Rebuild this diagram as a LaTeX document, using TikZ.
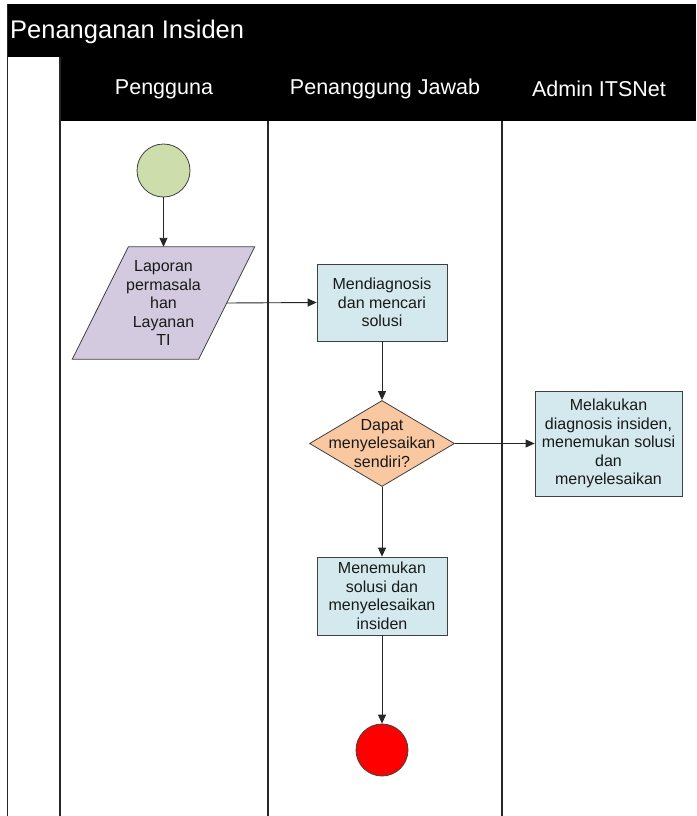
\documentclass[tikz,border=0pt]{standalone}
\usepackage{fontspec}
\setmainfont{Liberation Sans}
\usetikzlibrary{shapes.geometric,arrows.meta,calc}

\definecolor{startgreen}{HTML}{CEDDAC}
\definecolor{inputlilac}{HTML}{D3CADF}
\definecolor{taskblue}{HTML}{D4E9EE}
\definecolor{choicepeach}{HTML}{F9C8A0}
\definecolor{edgegray}{HTML}{404040}

\begin{document}
\begin{tikzpicture}[x=1pt,y=-1pt,
  laneline/.style={draw=black!85,line width=1.4pt},
  lanehead/.style={text=white,font=\fontsize{21.5}{25}\selectfont,inner sep=0pt},
  nodetext/.style={font=\fontsize{16}{18.5}\selectfont,align=center,text=black!90,inner sep=0pt},
  shapeline/.style={draw=edgegray,line width=0.8pt},
  taskbox/.style={shapeline,fill=taskblue,rectangle,nodetext},
  event/.style={shapeline,circle,minimum size=53pt,inner sep=0pt},
  decision/.style={shapeline,diamond,fill=choicepeach,minimum width=145pt,minimum height=86pt,inner sep=0pt},
  flow/.style={draw=black!85,line width=0.9pt,-{Triangle[length=9pt,width=8pt]}}
]
\useasboundingbox (0,0) rectangle (696,816);
\fill[white] (0,0) rectangle (696,816);

% pool header and lane header band
\fill[black] (7,4) rectangle (696,121);
\fill[white] (7.5,57) rectangle (60,816);

% pool and lane borders
\draw[laneline] (7.5,4) -- (7.5,816);
\draw[laneline] (60,57) -- (60,816);
\draw[laneline] (268,121) -- (268,816);
\draw[laneline] (502,121) -- (502,816);

% titles
\node[anchor=west,text=white,font=\fontsize{25.5}{30}\selectfont,inner sep=0pt] (title) at (10,32) {Penanganan Insiden};
\node[lanehead] (laneuser) at (164,89) {Pengguna};
\node[lanehead] (laneowner) at (385,89) {Penanggung Jawab};
\node[lanehead] (laneadmin) at (599,89) {Admin ITSNet};

% flow elements
\node[event,fill=startgreen] (start) at (163.5,170.5) {};

% input parallelogram: frame node, slanted outline, then its text
\node[inner sep=0pt,minimum width=126pt,minimum height=112pt] (para) at (163.5,303) {};
\filldraw[shapeline,fill=inputlilac]
  ($(para.north west)+(28,0)$) -- ($(para.north east)+(28,0)$) --
  ($(para.south east)+(-28,0)$) -- ($(para.south west)+(-28,0)$) -- cycle;
\node[nodetext] (paratext) at (para.center) {Laporan\\permasala\\han\\Layanan\\TI};

\node[taskbox,minimum width=130pt,minimum height=77pt] (diag) at (382,302.5)
  {Mendiagnosis\\dan mencari\\solusi};

\node[decision] (dia) at (382,443.5) {};
\node[nodetext] (diatext) at (dia.center) {Dapat\\menyelesaikan\\sendiri?};

\node[taskbox,minimum width=147pt,minimum height=105pt] (admin) at (608.5,443.5)
  {Melakukan\\diagnosis insiden,\\menemukan solusi\\dan\\menyelesaikan};

\node[taskbox,minimum width=130pt,minimum height=78pt] (solve) at (382,596)
  {Menemukan\\solusi dan\\menyelesaikan\\insiden};

\node[event,fill=red,minimum size=52pt] (finish) at (382,750) {};

% connectors
\draw[flow] (start) -- (para.north);
\draw[flow] (para.east) -- (diag.west);
\draw[flow] (diag) -- (dia);
\draw[flow] (dia.east) -- (admin.west);
\draw[flow] (dia.south) -- (solve.north);
\draw[flow] (solve) -- (finish);
\end{tikzpicture}
\end{document}
